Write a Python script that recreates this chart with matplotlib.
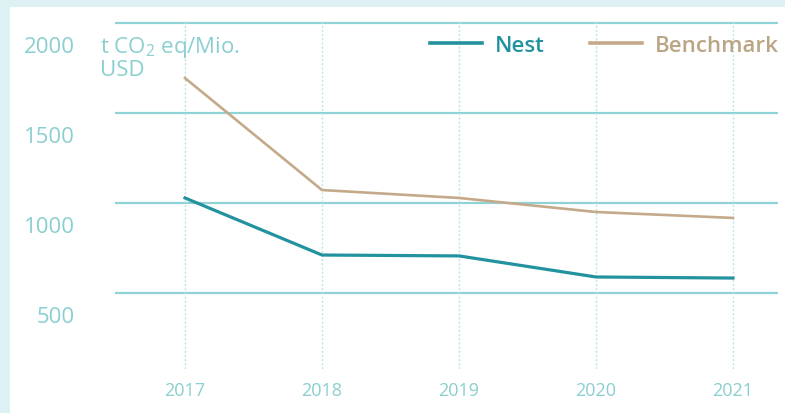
import matplotlib
matplotlib.use("Agg")
import matplotlib.pyplot as plt
from matplotlib.patches import Rectangle
from matplotlib.transforms import ScaledTranslation

# ---- data ----
years = [2017, 2018, 2019, 2020, 2021]
nest = [1028, 711, 706, 589, 583]
benchmark = [1694, 1072, 1028, 950, 917]
y_ticks = [500, 1000, 1500, 2000]
unit_label = "t CO$\\mathregular{_2}$ eq/Mio.\nUSD"

# ---- colours ----
bg = "#DDF0F4"
grid_col = "#8FD3D6"
vgrid_col = "#B9E3E5"
tick_col = "#8ACFD0"
nest_col = "#23929F"
bench_col = "#C4AA8A"
bench_text = "#BBA585"

plt.rcParams["font.family"] = ["Open Sans", "DejaVu Sans"]

W, H = 785, 414
fig = plt.figure(figsize=(W / 100, H / 100), dpi=100, facecolor=bg)
fig.patches.append(Rectangle((10 / W, 0), 1, 1 - 8 / H, transform=fig.transFigure,
                             facecolor="white", edgecolor="none", zorder=-5))

ax = fig.add_axes([115 / W, (H - 370) / H, 663 / W, 350 / H])
ax.set_facecolor("none")
ax.set_zorder(2)

# gridlines at data values
for v in y_ticks:
    ax.axhline(v, color=grid_col, lw=1.6, zorder=1)
for yr in years:
    ax.axvline(yr, color=vgrid_col, lw=1.0, ls=(0, (1.5, 1.5)), zorder=1)

ax.plot(years, benchmark, color=bench_col, lw=1.9, zorder=3, label="Benchmark")
ax.plot(years, nest, color=nest_col, lw=2.3, zorder=4, label="Nest")

ax.set_xlim(2017 - 70 / 137, 2021 + 45 / 137)
ax.set_ylim(500 - 76 * 500 / 90, 2000 + 4 * 500 / 90)

for s in ax.spines.values():
    s.set_visible(False)

ax.set_xticks(years)
ax.set_xticklabels([str(y) for y in years], fontsize=13, color=tick_col)
ax.tick_params(axis="x", length=0, pad=9)

ax.set_yticks(y_ticks)
ax.set_yticklabels([str(v) for v in y_ticks], fontsize=16, color=tick_col)
ax.tick_params(axis="y", length=0, pad=29)
# the report prints the y labels a bit below their gridlines
for lab in ax.get_yticklabels():
    lab.set_transform(lab.get_transform() + ScaledTranslation(0, -21 / 100, fig.dpi_scale_trans))

fig.text(100 / W, 1 - 35 / H, unit_label, fontsize=16, color=tick_col,
         ha="left", va="top", linespacing=1.0, zorder=3)

# legend
h_b, = ax.plot([], [], color=bench_col, lw=2.6)
h_n, = ax.plot([], [], color=nest_col, lw=2.6)
leg = ax.legend([h_n, h_b], ["Nest", "Benchmark"], ncol=2, frameon=False,
                loc="center right", bbox_to_anchor=(779 / W, 1 - 46 / H),
                bbox_transform=fig.transFigure, fontsize=16,
                handlelength=2.35, handletextpad=0.6, columnspacing=2.0,
                borderpad=0, borderaxespad=0)
for txt, c in zip(leg.get_texts(), [nest_col, bench_text]):
    txt.set_color(c)
    txt.set_fontweight("semibold")

fig.savefig("out.png", dpi=100, facecolor=bg)
